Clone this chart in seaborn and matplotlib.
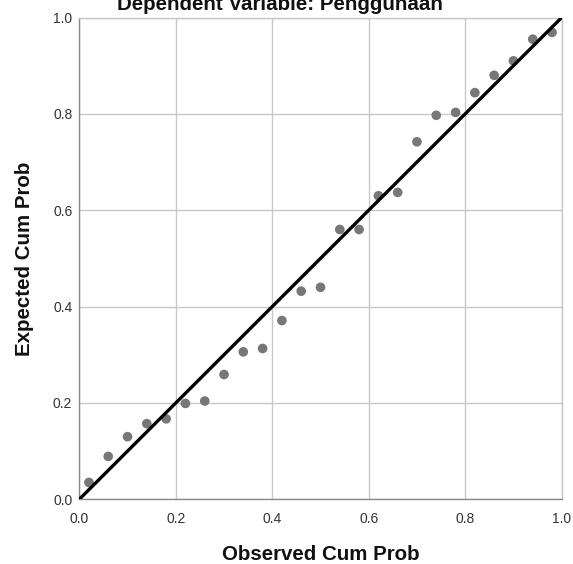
import matplotlib
matplotlib.use("Agg")
import matplotlib.pyplot as plt
import seaborn as sns
import pandas as pd

title = "Dependent Variable: Penggunaan"
x_label = "Observed Cum Prob"
y_label = "Expected Cum Prob"

observed = [0.02, 0.06, 0.10, 0.14, 0.18, 0.22, 0.26, 0.30, 0.34, 0.38,
            0.42, 0.46, 0.50, 0.54, 0.58, 0.62, 0.66, 0.70, 0.74, 0.78,
            0.82, 0.86, 0.90, 0.94, 0.98]
expected = [0.035, 0.089, 0.130, 0.157, 0.167, 0.199, 0.204, 0.259, 0.306, 0.313,
            0.371, 0.432, 0.440, 0.560, 0.560, 0.630, 0.637, 0.742, 0.797, 0.803,
            0.844, 0.880, 0.910, 0.955, 0.969]
diag_x = [0.0, 1.0]
diag_y = [0.0, 1.0]
ticks = [0.0, 0.2, 0.4, 0.6, 0.8, 1.0]
tick_labels = ["0.0", "0.2", "0.4", "0.6", "0.8", "1.0"]

sns.set_style("white")
plt.rcParams['font.family'] = ['Liberation Sans', 'DejaVu Sans']

fig = plt.figure(figsize=(5.73, 5.64), dpi=100)
top_px, bottom_px, left_px, right_px = 17.5, 499.3, 79.3, 561.7
ax = fig.add_axes([left_px/573, 1 - bottom_px/564, (right_px-left_px)/573, (bottom_px-top_px)/564])

df = pd.DataFrame({"obs": observed, "exp": expected})
line_df = pd.DataFrame({"x": diag_x, "y": diag_y})

ax.set_xlim(0, 1)
ax.set_ylim(0, 1)
ax.set_xticks(ticks)
ax.set_yticks(ticks)
ax.set_xticklabels(tick_labels)
ax.set_yticklabels(tick_labels)
ax.grid(True, color="#c8c8c8", linewidth=1.0)
ax.set_axisbelow(True)

sns.scatterplot(data=df, x="obs", y="exp", ax=ax, color="#777777", s=48,
                edgecolor="none", zorder=3, clip_on=False)
sns.lineplot(data=line_df, x="x", y="y", ax=ax, color="black", linewidth=2.4,
             zorder=4, solid_capstyle="butt")

for side in ["top", "right"]:
    ax.spines[side].set_color("#c8c8c8")
    ax.spines[side].set_linewidth(1.0)
for side in ["left", "bottom"]:
    ax.spines[side].set_color("#8a8a8a")
    ax.spines[side].set_linewidth(1.0)

ax.tick_params(axis="both", length=0, labelsize=10, colors="#333333")
ax.tick_params(axis="x", pad=9)
ax.tick_params(axis="y", pad=5)

ax.set_xlabel(x_label, fontsize=14.8, fontweight="bold", color="#111111", labelpad=14)
ax.set_ylabel(y_label, fontsize=14.8, fontweight="bold", color="#111111", labelpad=14)

fig.text(279.5/573, 1 - 9.5/564, title, ha="center", va="baseline",
         fontsize=14.8, fontweight="bold", color="#111111")

fig.savefig("out.png", dpi=100, facecolor="white")
